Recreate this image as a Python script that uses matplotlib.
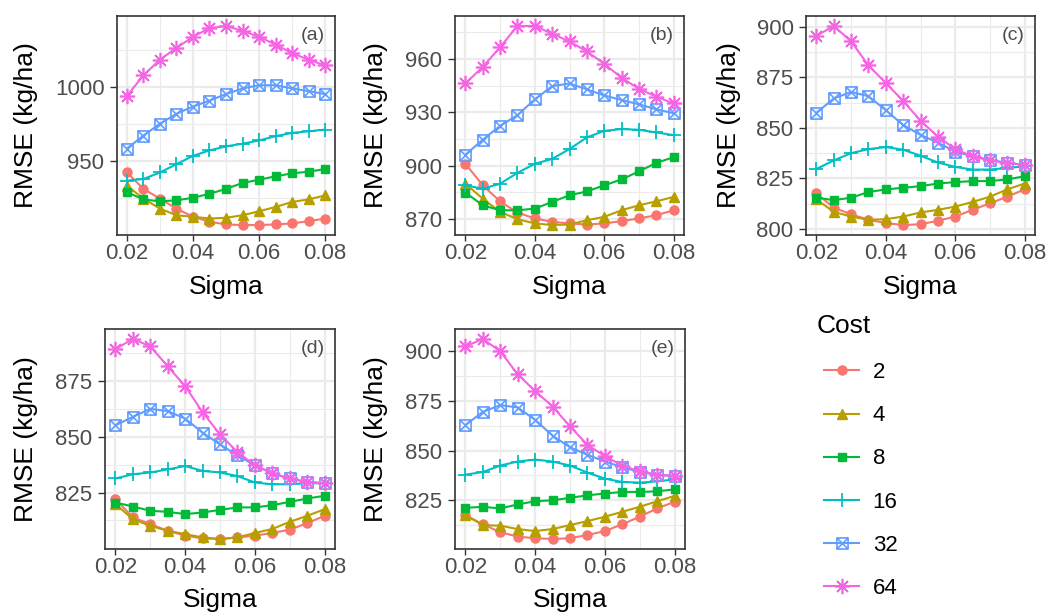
import matplotlib
matplotlib.use("Agg")
import matplotlib.pyplot as plt
from matplotlib.path import Path
from matplotlib.ticker import FixedLocator

plt.rcParams["font.family"] = ["Liberation Sans", "DejaVu Sans"]

sigma = [0.02, 0.025, 0.03, 0.035, 0.04, 0.045, 0.05, 0.055, 0.06, 0.065, 0.07, 0.075, 0.08]
costs = ["2", "4", "8", "16", "32", "64"]

# RMSE (kg/ha) per cost, one list per panel
rmse_a = {
    "2":  [942.4, 931.3, 924.7, 918.0, 912.5, 909.1, 907.3, 906.9, 906.9, 907.3, 908.0, 909.5, 911.3],
    "4":  [933.5, 924.7, 918.0, 913.5, 912.5, 911.3, 911.8, 913.5, 916.2, 919.1, 922.5, 924.2, 926.9],
    "8":  [929.1, 924.2, 922.9, 923.6, 925.3, 928.0, 931.3, 935.3, 937.5, 939.8, 941.8, 942.9, 944.7],
    "16": [936.9, 938.0, 942.4, 948.0, 953.6, 957.3, 960.0, 961.8, 964.0, 966.9, 969.1, 970.2, 971.3],
    "32": [958.5, 967.3, 975.3, 982.0, 986.9, 990.9, 995.3, 999.1, 1001.3, 1001.3, 999.1, 997.3, 995.3],
    "64": [994.0, 1008.0, 1018.5, 1026.5, 1034.0, 1039.8, 1041.3, 1038.0, 1034.0, 1028.7, 1022.9, 1018.5, 1014.7],
}
rmse_b = {
    "2":  [901.1, 889.0, 880.0, 873.7, 870.4, 868.5, 867.6, 867.0, 867.6, 868.9, 870.4, 872.2, 875.0],
    "4":  [889.9, 881.5, 874.1, 870.0, 867.6, 866.7, 867.0, 869.4, 871.3, 875.0, 877.8, 880.0, 882.5],
    "8":  [884.9, 877.8, 875.0, 875.0, 875.9, 879.7, 883.4, 885.6, 889.0, 892.3, 896.8, 901.6, 904.8],
    "16": [889.0, 887.1, 889.9, 896.0, 901.1, 903.8, 909.4, 915.9, 919.6, 920.6, 920.2, 918.7, 917.2],
    "32": [906.2, 914.6, 922.4, 928.4, 937.3, 944.7, 946.2, 942.9, 939.5, 936.9, 934.5, 931.7, 929.5],
    "64": [946.2, 955.5, 966.6, 978.5, 978.5, 974.1, 969.8, 964.2, 957.3, 949.4, 943.2, 938.8, 935.0],
}
rmse_c = {
    "2":  [817.6, 810.6, 807.3, 804.6, 803.0, 802.0, 802.4, 804.1, 806.2, 809.5, 812.7, 816.0, 819.6],
    "4":  [814.7, 808.5, 806.2, 804.6, 804.9, 806.2, 808.2, 809.5, 811.1, 813.4, 816.0, 819.6, 822.5],
    "8":  [815.5, 814.3, 815.5, 818.3, 819.6, 820.4, 821.2, 822.5, 823.2, 823.7, 823.7, 824.5, 826.1],
    "16": [829.7, 833.9, 837.5, 839.5, 840.5, 839.2, 836.2, 832.9, 830.7, 829.4, 829.4, 830.2, 831.0],
    "32": [857.4, 864.5, 867.7, 865.6, 858.7, 851.4, 846.5, 842.7, 838.3, 835.9, 834.3, 832.6, 831.8],
    "64": [895.4, 900.3, 892.7, 880.8, 872.1, 863.3, 853.5, 845.7, 839.5, 835.9, 833.9, 832.6, 831.8],
}
rmse_d = {
    "2":  [822.0, 813.8, 810.8, 807.8, 805.6, 804.4, 804.1, 804.8, 805.6, 806.8, 808.3, 811.2, 814.5],
    "4":  [819.8, 813.0, 810.0, 807.8, 806.3, 804.8, 804.1, 804.8, 806.8, 808.6, 811.8, 814.5, 817.5],
    "8":  [820.5, 818.7, 816.8, 816.3, 815.3, 816.0, 817.2, 818.3, 818.3, 819.3, 820.8, 822.3, 823.5],
    "16": [831.3, 833.2, 834.0, 835.4, 836.9, 834.7, 834.0, 832.4, 829.5, 828.7, 828.7, 829.2, 829.2],
    "32": [855.2, 859.0, 862.6, 861.6, 858.2, 851.9, 846.6, 841.7, 837.2, 833.6, 831.3, 829.7, 829.2],
    "64": [889.5, 894.0, 890.7, 881.7, 872.8, 861.1, 851.1, 843.2, 837.2, 833.6, 831.3, 829.7, 829.2],
}
rmse_e = {
    "2":  [817.5, 812.9, 808.9, 806.7, 805.9, 805.5, 805.9, 807.5, 809.5, 812.9, 816.7, 820.9, 824.2],
    "4":  [817.5, 812.5, 812.2, 810.5, 809.5, 810.5, 812.5, 814.5, 816.7, 819.2, 821.7, 824.5, 827.2],
    "8":  [821.2, 821.7, 820.9, 822.9, 824.5, 825.0, 826.2, 827.5, 828.4, 829.2, 829.2, 829.5, 830.5],
    "16": [837.9, 839.2, 842.5, 844.5, 845.5, 844.5, 842.5, 838.9, 835.9, 834.2, 833.9, 834.5, 835.5],
    "32": [862.9, 869.5, 872.9, 871.7, 865.5, 857.5, 851.7, 847.9, 844.5, 841.7, 839.2, 837.9, 837.2],
    "64": [902.5, 906.2, 900.0, 888.4, 880.0, 872.2, 862.2, 852.9, 847.2, 842.5, 839.5, 837.9, 837.2],
}

panel_letters = ["(a)", "(b)", "(c)", "(d)", "(e)"]
panel_data = [rmse_a, rmse_b, rmse_c, rmse_d, rmse_e]
y_major = [
    [950, 1000],
    [870, 900, 930, 960],
    [800, 825, 850, 875, 900],
    [825, 850, 875],
    [825, 850, 875, 900],
]
x_major = [0.02, 0.04, 0.06, 0.08]

# ggplot2 default hue palette
colors = ["#F8766D", "#B79F00", "#00BA38", "#00BFC4", "#619CFF", "#F564E3"]

# square with an X through it
box_x = Path(
    [(-1, -1), (1, -1), (1, 1), (-1, 1), (-1, -1), (-1, -1), (1, 1), (-1, 1), (1, -1)],
    [Path.MOVETO, Path.LINETO, Path.LINETO, Path.LINETO, Path.CLOSEPOLY,
     Path.MOVETO, Path.LINETO, Path.MOVETO, Path.LINETO],
)
marker_style = [
    dict(marker="o", markersize=6.5),
    dict(marker="^", markersize=7.5),
    dict(marker="s", markersize=6),
    dict(marker="+", markersize=10, markeredgewidth=1.3),
    dict(marker=box_x, markersize=8, markerfacecolor="none", markeredgewidth=1.2),
    dict(marker=(8, 2, 0), markersize=11, markeredgewidth=1.2),
]

W, H = 1048, 613
fig = plt.figure(figsize=(W / 100, H / 100), dpi=100)

# panel boxes in pixels: left, top, right, bottom
boxes = [
    (117, 16, 335, 235),
    (455, 16, 684, 235),
    (806, 16, 1035, 235),
    (105, 329, 335, 549),
    (455, 329, 685, 549),
]
ylabel_x = [26, 376, 729, 26, 376]
xlabel_y = [287, 600]

grid_col = "#EBEBEB"
for i, (l, t, r, b) in enumerate(boxes):
    ax = fig.add_axes([l / W, 1 - b / H, (r - l) / W, (b - t) / H])
    data = panel_data[i]
    for k, c in enumerate(costs):
        ax.plot(sigma, data[c], color=colors[k], lw=1.5, label=c,
                markeredgecolor=colors[k], **marker_style[k])
    ax.margins(x=0.05, y=0.05)
    yt = y_major[i]
    step = yt[1] - yt[0]
    ax.set_yticks(yt)
    ax.yaxis.set_minor_locator(FixedLocator(
        [yt[0] - step / 2] + [v + step / 2 for v in yt]))
    ax.set_xticks(x_major)
    ax.set_xticklabels([f"{v:.2f}" for v in x_major])
    ax.xaxis.set_minor_locator(FixedLocator([0.03, 0.05, 0.07]))
    ax.grid(True, which="major", color=grid_col, lw=1.6, zorder=0)
    ax.grid(True, which="minor", color=grid_col, lw=0.8, zorder=0)
    ax.set_axisbelow(True)
    ax.tick_params(which="major", length=4, width=1, color="#333333",
                   labelsize=16, labelcolor="#4D4D4D", pad=2)
    ax.tick_params(axis="y", which="major", length=5, pad=4)
    ax.tick_params(which="minor", length=0)
    for s in ax.spines.values():
        s.set_color("#333333")
        s.set_linewidth(1.2)
    ax.text(0.955, 0.95, panel_letters[i], transform=ax.transAxes,
            ha="right", va="top", fontsize=14, color="#4D4D4D")
    fig.text(ylabel_x[i] / W, 1 - ((t + b) / 2) / H, "RMSE (kg/ha)",
             rotation=90, ha="center", va="center", fontsize=19)
    fig.text(((l + r) / 2) / W, 1 - xlabel_y[0 if i < 3 else 1] / H, "Sigma",
             ha="center", va="center", fontsize=19)
    if i == 0:
        handles, labels = ax.get_legend_handles_labels()

leg = fig.legend(handles, labels, title="Cost", loc="upper left",
                 bbox_to_anchor=(808 / W, 1 - 305 / H), frameon=False,
                 fontsize=16, title_fontsize=19, handlelength=1.6,
                 handletextpad=0.6, labelspacing=1.0, borderaxespad=0)
leg._legend_box.align = "left"
# indent the keys under the title, keep the title gap tight
leg._legend_handle_box.pad = 5
leg._legend_box.sep = 12.4

fig.savefig("out.png", dpi=100)
